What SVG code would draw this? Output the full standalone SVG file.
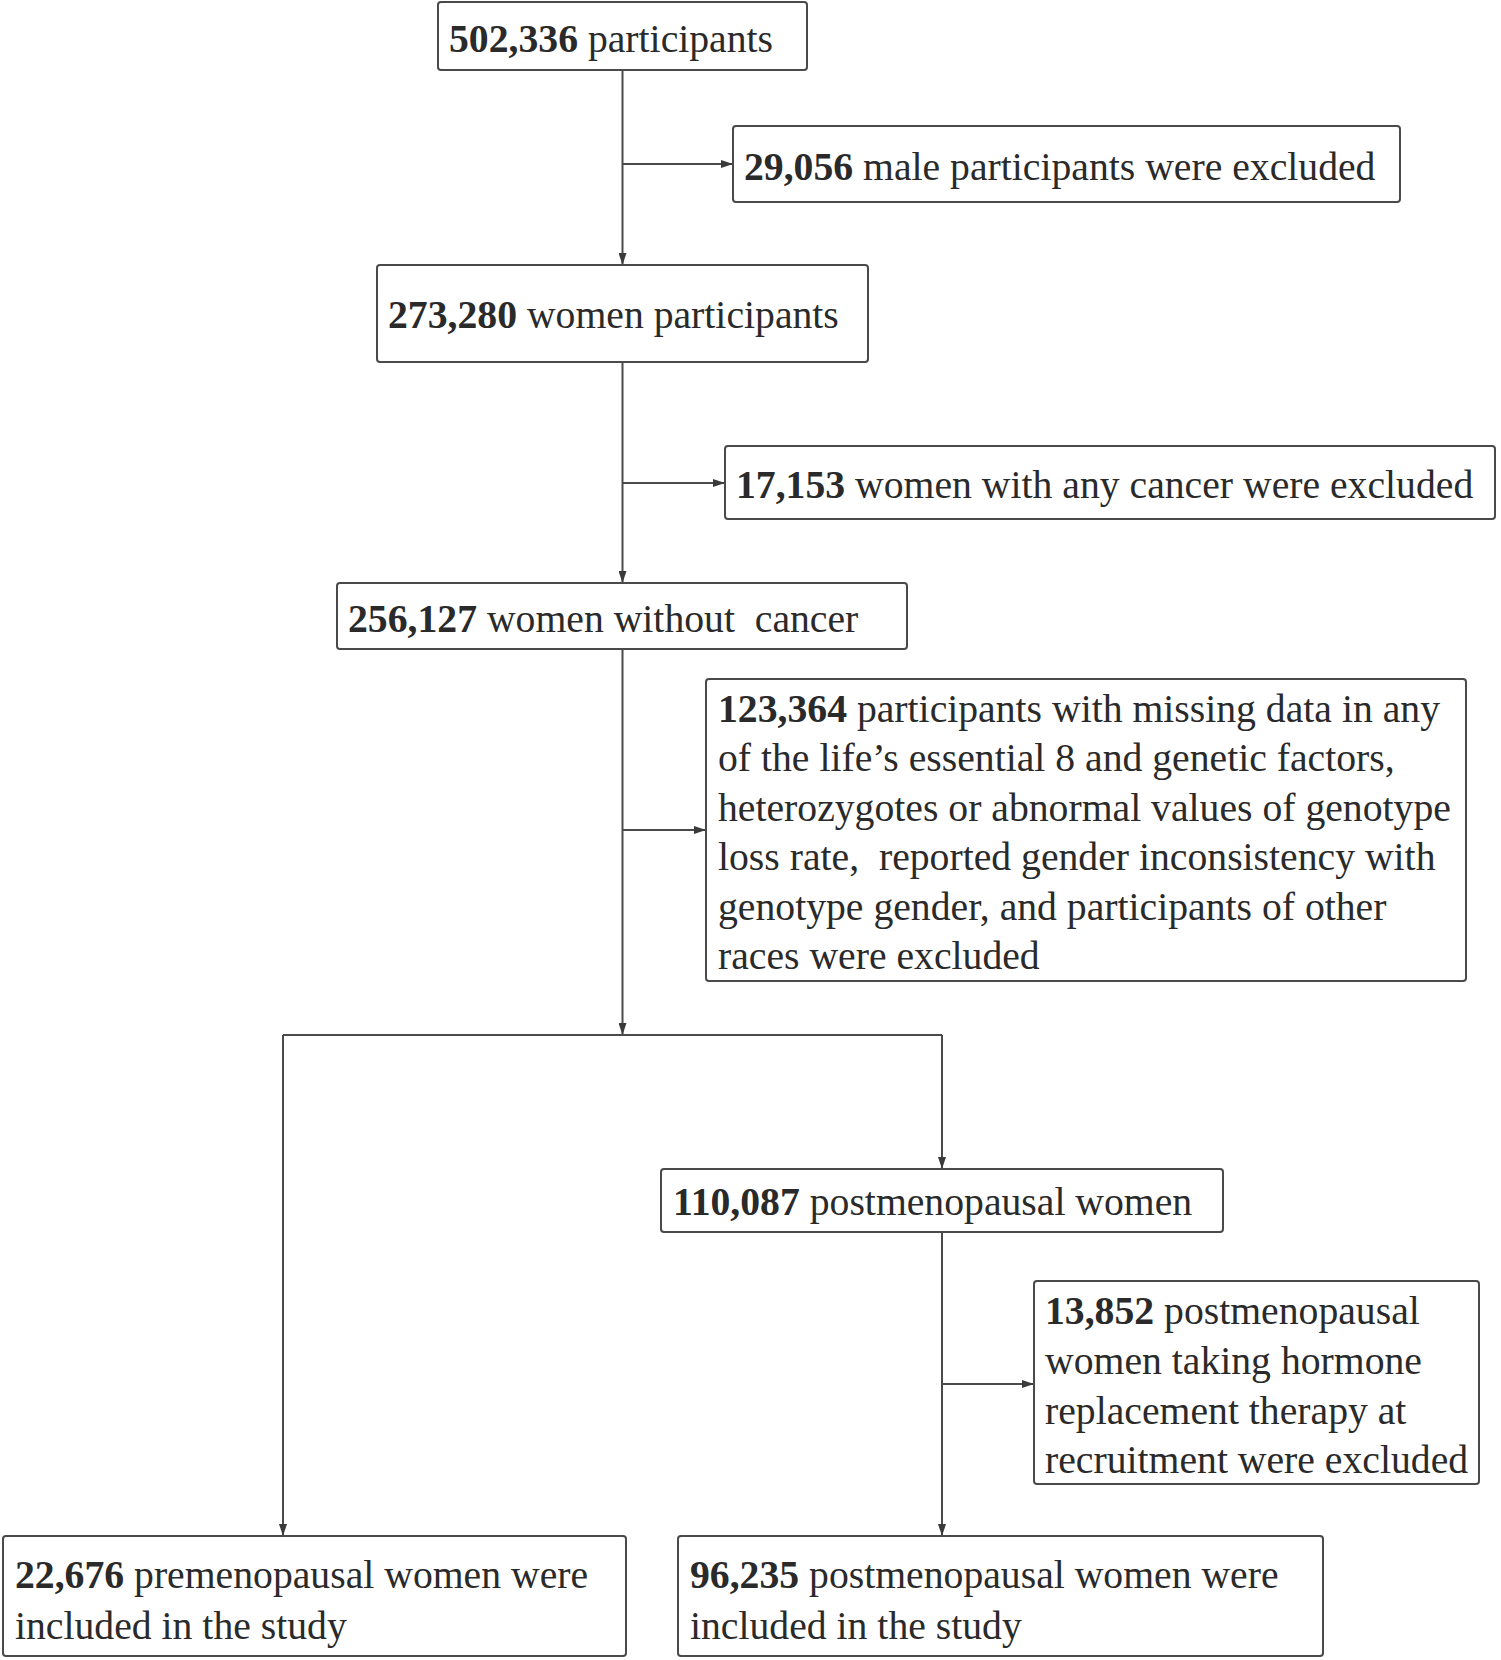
<svg xmlns="http://www.w3.org/2000/svg" width="1501" height="1660" viewBox="0 0 1501 1660">
<style>
.box{fill:#fff;stroke:#4a4a4a;stroke-width:2}
.t{font-family:"Liberation Serif","Times New Roman",serif;font-size:39.7px;fill:#2a2a2a}
.b{font-weight:bold}
.c{fill:none;stroke:#4a4a4a;stroke-width:2}
</style>
<defs>
<marker id="ah" markerUnits="userSpaceOnUse" markerWidth="12" markerHeight="8" refX="12" refY="4" orient="auto">
<path d="M0,0 L12,4 L0,8 z" fill="#3a3a3a"/>
</marker>
</defs>
<rect width="1501" height="1660" fill="#fff"/>
<g id="connectors">
<line class="c" x1="622.5" y1="70" x2="622.5" y2="265" marker-end="url(#ah)"/>
<line class="c" x1="622.5" y1="164" x2="733" y2="164" marker-end="url(#ah)"/>
<line class="c" x1="622.5" y1="362" x2="622.5" y2="583" marker-end="url(#ah)"/>
<line class="c" x1="622.5" y1="483" x2="725" y2="483" marker-end="url(#ah)"/>
<line class="c" x1="622.5" y1="649" x2="622.5" y2="1035" marker-end="url(#ah)"/>
<line class="c" x1="622.5" y1="830" x2="706" y2="830" marker-end="url(#ah)"/>
<line class="c" x1="283" y1="1035" x2="942" y2="1035"/>
<line class="c" x1="283" y1="1035" x2="283" y2="1536" marker-end="url(#ah)"/>
<line class="c" x1="942" y1="1035" x2="942" y2="1169" marker-end="url(#ah)"/>
<line class="c" x1="942" y1="1232" x2="942" y2="1536" marker-end="url(#ah)"/>
<line class="c" x1="942" y1="1384" x2="1034" y2="1384" marker-end="url(#ah)"/>
</g>
<g id="n1">
<rect class="box" x="438" y="2" width="369" height="68" rx="3"/>
<text class="t" x="449" y="52"><tspan class="b">502,336</tspan> participants</text>
</g>
<g id="n2">
<rect class="box" x="733" y="126" width="667" height="76" rx="3"/>
<text class="t" x="744" y="180"><tspan class="b">29,056</tspan> male participants were excluded</text>
</g>
<g id="n3">
<rect class="box" x="377" y="265" width="491" height="97" rx="3"/>
<text class="t" x="388" y="328"><tspan class="b">273,280</tspan> women participants</text>
</g>
<g id="n4">
<rect class="box" x="725" y="446" width="770" height="73" rx="3"/>
<text class="t" x="736" y="498"><tspan class="b">17,153</tspan> women with any cancer were excluded</text>
</g>
<g id="n5">
<rect class="box" x="337" y="583" width="570" height="66" rx="3"/>
<text class="t" x="348" y="632" xml:space="preserve"><tspan class="b">256,127</tspan> women without  cancer</text>
</g>
<g id="n6">
<rect class="box" x="706" y="679" width="760" height="302" rx="3"/>
<text class="t" xml:space="preserve"><tspan x="718" y="722"><tspan class="b">123,364</tspan> participants with missing data in any</tspan><tspan x="718" y="771">of the life’s essential 8 and genetic factors,</tspan><tspan x="718" y="821">heterozygotes or abnormal values of genotype</tspan><tspan x="718" y="870">loss rate,  reported gender inconsistency with</tspan><tspan x="718" y="920">genotype gender, and participants of other</tspan><tspan x="718" y="969">races were excluded</tspan></text>
</g>
<g id="n7">
<rect class="box" x="661" y="1169" width="562" height="63" rx="3"/>
<text class="t" x="673" y="1215"><tspan class="b">110,087</tspan> postmenopausal women</text>
</g>
<g id="n8">
<rect class="box" x="1034" y="1281" width="445" height="203" rx="3"/>
<text class="t"><tspan x="1045" y="1324"><tspan class="b">13,852</tspan> postmenopausal</tspan><tspan x="1045" y="1374">women taking hormone</tspan><tspan x="1045" y="1424">replacement therapy at</tspan><tspan x="1045" y="1473">recruitment were excluded</tspan></text>
</g>
<g id="n9">
<rect class="box" x="3" y="1536" width="623" height="120" rx="3"/>
<text class="t"><tspan x="15" y="1588"><tspan class="b">22,676</tspan> premenopausal women were</tspan><tspan x="15" y="1639">included in the study</tspan></text>
</g>
<g id="n10">
<rect class="box" x="678" y="1536" width="645" height="120" rx="3"/>
<text class="t"><tspan x="690" y="1588"><tspan class="b">96,235</tspan> postmenopausal women were</tspan><tspan x="690" y="1639">included in the study</tspan></text>
</g>
</svg>
